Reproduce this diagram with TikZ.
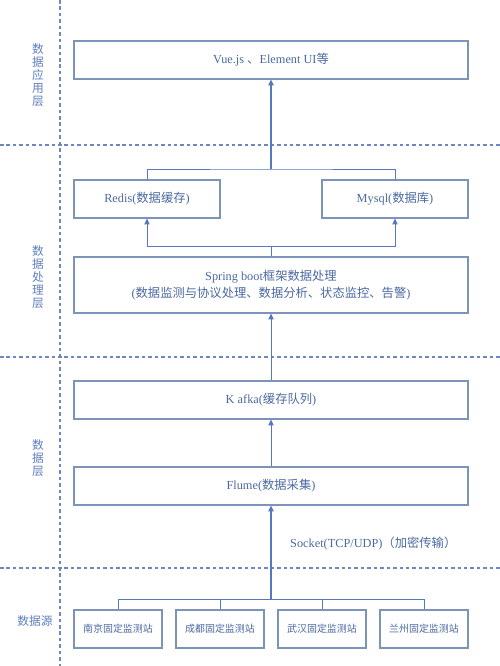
\documentclass[tikz,border=0pt]{standalone}
\usepackage{fontspec}
\setmainfont{Liberation Serif}
\newfontfamily\cjk{Noto Sans CJK SC}
\usepackage{tikz}
\usetikzlibrary{positioning}
\usetikzlibrary{arrows.meta}

\definecolor{boxline}{RGB}{125,148,185}
\definecolor{boxtext}{RGB}{75,105,160}
\definecolor{sidetext}{RGB}{95,125,190}
\definecolor{linkblue}{RGB}{85,120,190}
\definecolor{dashblue}{RGB}{110,135,190}

\tikzset{
	box/.style={draw=boxline, line width=0.9pt, text=boxtext, inner sep=0pt, minimum height=1.14cm, align=center, font=\fontsize{10.5}{14.5}\selectfont},
	wide/.style={box, minimum width=11.82cm},
	half/.style={box, minimum width=4.38cm},
	station/.style={box, minimum width=2.64cm, font=\fontsize{8.5}{10}\selectfont\cjk},
	side/.style={text=sidetext, align=center, inner sep=0pt, font=\fontsize{10}{11.2}\selectfont\cjk},
	layer/.style={draw=dashblue, line width=1.2pt, dash pattern=on 3pt off 2.5pt},
	link/.style={draw=linkblue, line width=0.8pt},
	arr/.style={link, -{Triangle[length=5pt,width=4.5pt]}}
}

\begin{document}
\begin{tikzpicture}[x=0.03cm, y=-0.03cm]
	\useasboundingbox (0,0) rectangle (500,666);

	% layers
	\draw[layer] (60,0) -- (60,666);
	\draw[layer] (0,145) -- (500,145);
	\draw[layer] (0,357) -- (500,357);
	\draw[layer] (0,568) -- (500,568);

	\node[side] (appl) at (38,75) {数\\据\\应\\用\\层};
	\node[side] (procl) at (38,277) {数\\据\\处\\理\\层};
	\node[side] (datal) at (38,458) {数\\据\\层};
	\node[side] (srcl) at (35,621) {数据源};

	% boxes
	\node[wide] (vue) at (271,60) {Vue.js {\cjk 、}Element UI{\cjk 等}};
	\node[half] (redis) at (147,199) {Redis({\cjk 数据缓存})};
	\node[half] (mysql) at (395,199) {Mysql({\cjk 数据库})};
	\node[wide, minimum height=1.68cm] (spring) at (271,285) {Spring boot{\cjk 框架数据处理}\\({\cjk 数据监测与协议处理、数据分析、状态监控、告警})};
	\node[wide] (kafka) at (271,400) {K afka({\cjk 缓存队列})};
	\node[wide] (flume) at (271,486) {Flume({\cjk 数据采集})};

	\node[station] (nj) at (118,629) {南京固定监测站};
	\node[station] (cd) at (220,629) {成都固定监测站};
	\node[station] (wh) at (322,629) {武汉固定监测站};
	\node[station] (lz) at (424,629) {兰州固定监测站};

	\node[text=boxtext, anchor=west, inner sep=0pt, font=\fontsize{10.5}{12}\selectfont] (socket) at (290,544) {Socket(TCP/UDP){\cjk （加密传输）}};

	% connectors
	\coordinate (upjoin) at (271,169);
	\coordinate (lowjoin) at (271,246);
	\coordinate (srcjoin) at (271,599);

	\draw[link] (redis.north) |- (upjoin) -| (mysql.north);
	\draw[arr, line width=1.2pt] (upjoin) -- (vue.south);
	\draw[link] (spring.north) -- (lowjoin);
	\draw[arr] (lowjoin) -| (redis.south);
	\draw[arr] (lowjoin) -| (mysql.south);
	\draw[arr] (kafka.north) -- (spring.south);
	\draw[arr] (flume.north) -- (kafka.south);
	\draw[arr, line width=1.2pt] (srcjoin) -- (flume.south);
	\foreach \s in {nj,cd,wh,lz}
		\draw[link] (\s.north) |- (srcjoin);
\end{tikzpicture}
\end{document}
